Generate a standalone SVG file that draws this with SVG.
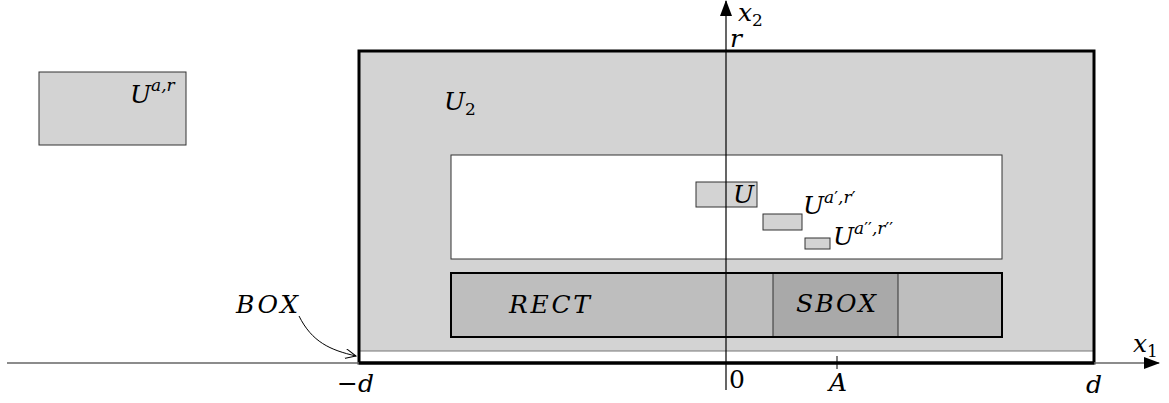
<svg xmlns="http://www.w3.org/2000/svg" width="1169" height="403" viewBox="0 0 1169 403">
<style>
.t{font-family:"DejaVu Serif",serif;font-style:italic;font-size:25px;fill:#000}
.up{font-style:normal}
.sup{font-size:17px}
.thin{stroke:#333;stroke-width:1}
</style>
<defs>
<marker id="tri" viewBox="0 0 16 12" refX="15" refY="6" markerWidth="16" markerHeight="12" markerUnits="userSpaceOnUse" orient="auto"><path d="M0,0 L16,6 L0,12 Z" fill="#000"/></marker>
<marker id="open" viewBox="0 0 12 10" refX="11" refY="5" markerWidth="12" markerHeight="10" markerUnits="userSpaceOnUse" orient="auto"><path d="M0,0 L11,5 L0,10" fill="none" stroke="#000" stroke-width="1"/></marker>
</defs>
<rect width="1169" height="403" fill="#fff"/>

<g id="uar">
<rect x="39" y="72" width="147" height="73" fill="#d3d3d3" class="thin"/>
<text class="t" x="130" y="103">U<tspan class="sup" dy="-12">a,r</tspan></text>
</g>

<g id="box-outer">
<rect x="359" y="51" width="735" height="300" fill="#d3d3d3"/>
<line x1="359" y1="351" x2="1094" y2="351" stroke="#777" stroke-width="1"/>
<rect x="359" y="51" width="735" height="312" fill="none" stroke="#000" stroke-width="3"/>
<text class="t" x="444" y="110">U<tspan class="up sup" dy="5">2</tspan></text>
</g>

<g id="inner">
<rect x="451" y="155" width="551" height="104" fill="#fff" class="thin"/>
</g>

<g id="rect">
<rect x="451" y="273" width="551" height="64" fill="#bebebe" stroke="#000" stroke-width="2"/>
<rect x="773" y="273" width="125" height="64" fill="#a9a9a9" stroke="none"/>
<line x1="773" y1="273" x2="773" y2="337" stroke="#333" stroke-width="1"/>
<line x1="898" y1="273" x2="898" y2="337" stroke="#333" stroke-width="1"/>
<rect x="451" y="273" width="551" height="64" fill="none" stroke="#000" stroke-width="2"/>
<text class="t" x="509" y="313" textLength="81" lengthAdjust="spacing">RECT</text>
<text class="t" x="796" y="312" textLength="80" lengthAdjust="spacing">SBOX</text>
</g>

<g id="u">
<rect x="696" y="182" width="61" height="25" fill="#d3d3d3" class="thin"/>
<text class="t" x="733" y="203">U</text>
</g>
<g id="u1">
<rect x="763" y="214" width="39" height="16" fill="#d3d3d3" class="thin"/>
<text class="t" x="803" y="214">U<tspan class="sup" dy="-11">a<tspan class="up">′</tspan>,r<tspan class="up">′</tspan></tspan></text>
</g>
<g id="u2">
<rect x="805" y="238" width="25" height="11" fill="#d3d3d3" class="thin"/>
<text class="t" x="833" y="245">U<tspan class="sup" dy="-11">a<tspan class="up">′′</tspan>,r<tspan class="up">′′</tspan></tspan></text>
</g>

<g id="connectors">
<line x1="7" y1="363" x2="1159" y2="363" stroke="#666" stroke-width="1.5" marker-end="url(#tri)"/>
<line x1="359" y1="363" x2="1094" y2="363" stroke="#000" stroke-width="3"/>
<line x1="726" y1="390" x2="726" y2="1" stroke="#000" stroke-width="1.2" marker-end="url(#tri)"/>
<line x1="837" y1="356" x2="837" y2="369" stroke="#000" stroke-width="1"/>
<path d="M299,316 C312,342 330,350 356,356" fill="none" stroke="#000" stroke-width="1" marker-end="url(#open)"/>
</g>

<g id="labels">
<text class="t" x="738" y="21">x<tspan class="up sup" dy="5">2</tspan></text>
<text class="t" x="730" y="47">r</text>
<text class="t" x="1133" y="352">x<tspan class="up sup" dy="5">1</tspan></text>
<text class="t" x="236" y="313" textLength="62" lengthAdjust="spacing">BOX</text>
<text class="t" x="337" y="392">−d</text>
<text class="t up" x="729" y="388">0</text>
<text class="t" x="829" y="391">A</text>
<text class="t" x="1086" y="393">d</text>
</g>
</svg>
